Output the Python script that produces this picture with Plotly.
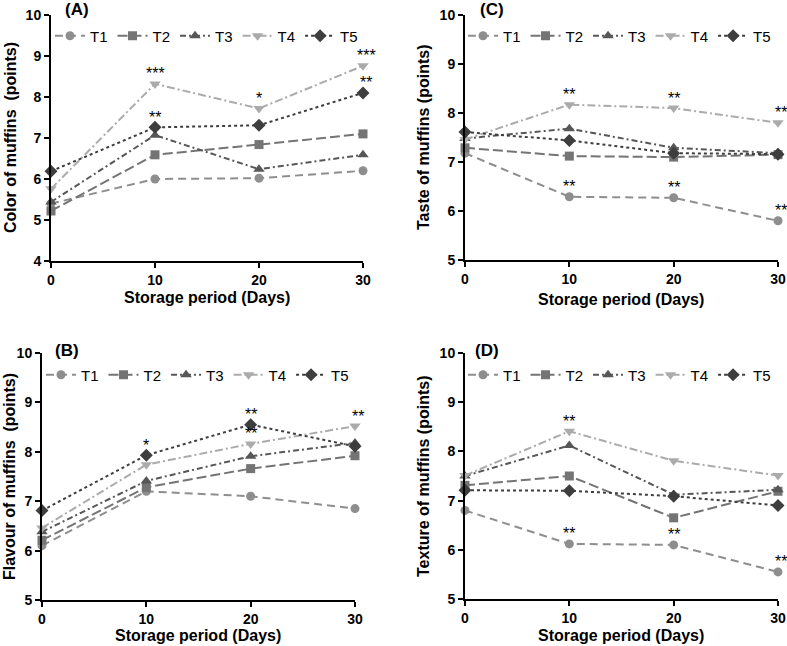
import plotly.graph_objects as go

# ---------------- data ----------------
days = [0, 10, 20, 30]
series_names = ["T1", "T2", "T3", "T4", "T5"]

color_T1 = [5.40, 6.00, 6.02, 6.20]
color_T2 = [5.22, 6.59, 6.84, 7.10]
color_T3 = [5.44, 7.07, 6.24, 6.59]
color_T4 = [5.76, 8.32, 7.72, 8.76]
color_T5 = [6.19, 7.26, 7.31, 8.10]

taste_T1 = [7.18, 6.29, 6.27, 5.80]
taste_T2 = [7.29, 7.12, 7.10, 7.15]
taste_T3 = [7.48, 7.68, 7.29, 7.18]
taste_T4 = [7.46, 8.17, 8.10, 7.80]
taste_T5 = [7.61, 7.44, 7.18, 7.16]

flavour_T1 = [6.10, 7.20, 7.10, 6.85]
flavour_T2 = [6.21, 7.28, 7.66, 7.92]
flavour_T3 = [6.38, 7.41, 7.91, 8.18]
flavour_T4 = [6.46, 7.74, 8.16, 8.52]
flavour_T5 = [6.81, 7.93, 8.55, 8.11]

texture_T1 = [6.80, 6.12, 6.10, 5.55]
texture_T2 = [7.31, 7.50, 6.65, 7.19]
texture_T3 = [7.50, 8.12, 7.12, 7.22]
texture_T4 = [7.51, 8.41, 7.81, 7.51]
texture_T5 = [7.21, 7.20, 7.09, 6.90]

# significance marks: (day, series, text)
sig_color = [(10, "T4", "***"), (10, "T5", "**"), (20, "T4", "*"), (30, "T4", "***"), (30, "T5", "**")]
sig_taste = [(10, "T4", "**"), (20, "T4", "**"), (30, "T4", "**"),
             (10, "T1", "**"), (20, "T1", "**"), (30, "T1", "**")]
sig_flavour = [(10, "T5", "*"), (20, "T5", "**"), (20, "T4", "**"), (30, "T4", "**")]
sig_texture = [(10, "T4", "**"), (10, "T1", "**"), (20, "T1", "**"), (30, "T1", "**")]

x_title = "Storage period (Days)"

# ---------------- styles ----------------
FONT = "Liberation Sans, Arial, sans-serif"
styles = {
    "T1": dict(color="#8e8e8e", symbol="circle", dash="8px,5px", size=9),
    "T2": dict(color="#747474", symbol="square", dash="10px,4px", size=9),
    "T3": dict(color="#575757", symbol="triangle-up", dash="6px,3px,2px,3px", size=10),
    "T4": dict(color="#ababab", symbol="triangle-down", dash="8px,3px,2px,3px", size=10),
    "T5": dict(color="#3e3e3e", symbol="diamond", dash="3px,3px", size=10),
}

W, H = 787, 646

def px2x(px):
    return px / W

def px2y(py):
    return 1 - py / H

panels = [
    dict(label="(A)", ytitle="Color of muffins \u00a0(points)", yr=[4, 10],
         data=[color_T1, color_T2, color_T3, color_T4, color_T5], sig=sig_color,
         xpx=(51, 363), ypx=(261, 15), ax="", legend="legend",
         legpos=(50, 36), lab=(77, 9), ytit=(10, 138), xtit=(207, 297)),
    dict(label="(C)", ytitle="Taste of muffins (points)", yr=[5, 10],
         data=[taste_T1, taste_T2, taste_T3, taste_T4, taste_T5], sig=sig_taste,
         xpx=(465, 778), ypx=(260, 15), ax="2", legend="legend2",
         legpos=(463, 36), lab=(492, 9), ytit=(423, 138), xtit=(621, 299)),
    dict(label="(B)", ytitle="Flavour of muffins \u00a0(points)", yr=[5, 10],
         data=[flavour_T1, flavour_T2, flavour_T3, flavour_T4, flavour_T5], sig=sig_flavour,
         xpx=(42, 355), ypx=(600, 353), ax="3", legend="legend3",
         legpos=(41, 375), lab=(67, 350), ytit=(9, 477), xtit=(198, 635)),
    dict(label="(D)", ytitle="Texture of muffins (points)", yr=[5, 10],
         data=[texture_T1, texture_T2, texture_T3, texture_T4, texture_T5], sig=sig_texture,
         xpx=(465, 778), ypx=(599, 353), ax="4", legend="legend4",
         legpos=(463, 375), lab=(487, 350), ytit=(423, 477), xtit=(621, 635)),
]

fig = go.Figure()
layout = dict(
    width=W, height=H,
    margin=dict(l=0, r=0, t=0, b=0),
    paper_bgcolor="white", plot_bgcolor="white",
    font=dict(family=FONT, color="black"),
    showlegend=True,
)
annotations = []

for p in panels:
    xa = "x" + p["ax"]
    ya = "y" + p["ax"]
    for name, vals in zip(series_names, p["data"]):
        s = styles[name]
        fig.add_trace(go.Scatter(
            x=days, y=vals, name=name, mode="lines+markers",
            xaxis=xa, yaxis=ya, legend=p["legend"], cliponaxis=False,
            line=dict(color=s["color"], width=2, dash=s["dash"]),
            marker=dict(symbol=s["symbol"], size=s["size"], color=s["color"]),
        ))
    axis_common = dict(showline=True, linecolor="black", linewidth=2,
                       ticks="outside", ticklen=5, tickwidth=2, tickcolor="black",
                       showgrid=False, zeroline=False, automargin=False,
                       ticklabeloverflow="allow",
                       tickfont=dict(family=FONT, size=14, color="black", weight="bold"))
    layout["xaxis" + p["ax"]] = dict(
        axis_common, domain=[px2x(p["xpx"][0]), px2x(p["xpx"][1])],
        range=[0, 30], tickvals=days, anchor=ya)
    layout["yaxis" + p["ax"]] = dict(
        axis_common, domain=[px2y(p["ypx"][0]), px2y(p["ypx"][1])],
        range=p["yr"], dtick=1, anchor=xa)
    layout[p["legend"]] = dict(
        orientation="h", x=px2x(p["legpos"][0]), y=px2y(p["legpos"][1]),
        xanchor="left", yanchor="middle", bgcolor="rgba(0,0,0,0)",
        font=dict(family=FONT, size=15, color="black"), itemwidth=30,
        tracegroupgap=0)
    # panel label
    annotations.append(dict(text=p["label"], x=px2x(p["lab"][0]), y=px2y(p["lab"][1]),
                            xref="paper", yref="paper", showarrow=False,
                            xanchor="center", yanchor="middle",
                            font=dict(family=FONT, size=17, weight="bold")))
    # axis titles
    annotations.append(dict(text=p["ytitle"], x=px2x(p["ytit"][0]), y=px2y(p["ytit"][1]),
                            xref="paper", yref="paper", showarrow=False, textangle=-90,
                            xanchor="center", yanchor="middle",
                            font=dict(family=FONT, size=16, weight="bold")))
    annotations.append(dict(text=x_title, x=px2x(p["xtit"][0]), y=px2y(p["xtit"][1]),
                            xref="paper", yref="paper", showarrow=False,
                            xanchor="center", yanchor="middle",
                            font=dict(family=FONT, size=16, weight="bold")))
    # significance stars
    for day, ser, txt in p["sig"]:
        yv = p["data"][series_names.index(ser)][days.index(day)]
        annotations.append(dict(text=txt, x=day, y=yv, xref=xa, yref=ya,
                                showarrow=False, xanchor="center", yanchor="middle",
                                yshift=10, xshift=3 if day == 30 else 0,
                                font=dict(family=FONT, size=16, color="black")))

layout["annotations"] = annotations
fig.update_layout(**layout)
# remove the browser's default 8px body margin so the figure fills the window exactly
fig.write_html("out.html",
               config={"displayModeBar": False},
               post_script="document.body.style.margin='0';document.body.style.overflow='hidden';")
